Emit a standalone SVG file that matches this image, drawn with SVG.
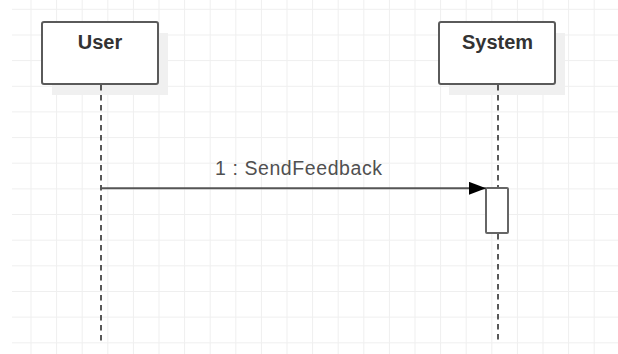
<svg xmlns="http://www.w3.org/2000/svg" width="618" height="354" viewBox="0 0 618 354">
  <style>
    .grid { stroke: #efefef; stroke-width: 1; fill: none; }
    .shadow { fill: #f0f0f0; stroke: none; }
    .box { fill: #ffffff; stroke: #5a5a5a; stroke-width: 2; }
    .title { font-family: "Liberation Sans", Arial, sans-serif; font-size: 20px; font-weight: bold; fill: #333333; text-anchor: middle; }
    .lifeline { stroke: #222222; stroke-width: 1.5; stroke-dasharray: 5.5 4.5; fill: none; }
    .msg { stroke: #555555; stroke-width: 2; fill: none; }
    .label { font-family: "Liberation Sans", Arial, sans-serif; font-size: 19.5px; fill: #505050; }
    .act { fill: #ffffff; stroke: #666666; stroke-width: 2; }
  </style>
  <defs>
    <marker id="arrow" markerUnits="userSpaceOnUse" markerWidth="18" markerHeight="14" refX="17" refY="6.5" orient="auto">
      <path d="M0,0 L17,6.5 L0,13 Z" fill="#000000"/>
    </marker>
  </defs>
  <rect x="0" y="0" width="618" height="354" fill="#ffffff"/>
  <g id="grid" class="grid">
    <path d="M31,0V354 M56.6,0V354 M82.2,0V354 M107.8,0V354 M133.4,0V354 M159,0V354 M184.6,0V354 M210.2,0V354 M235.8,0V354 M261.4,0V354 M287,0V354 M312.6,0V354 M338.2,0V354 M363.8,0V354 M389.4,0V354 M415,0V354 M440.6,0V354 M466.2,0V354 M491.8,0V354 M517.4,0V354 M543,0V354 M568.6,0V354 M594.2,0V354"/>
    <path d="M12,9.3H618 M12,35H618 M12,60.6H618 M12,86.3H618 M12,111.9H618 M12,137.6H618 M12,163.2H618 M12,188.9H618 M12,214.5H618 M12,240.2H618 M12,265.8H618 M12,291.5H618 M12,317.1H618 M12,342.8H618"/>
  </g>
  <g id="user">
    <rect class="shadow" x="52" y="33" width="116" height="62"/>
    <rect class="box" x="42" y="22" width="116" height="62" rx="2"/>
    <text class="title" x="100" y="48.5">User</text>
    <line class="lifeline" x1="101" y1="85" x2="101" y2="342"/>
  </g>
  <g id="system">
    <rect class="shadow" x="449" y="33" width="116" height="62"/>
    <rect class="box" x="439" y="22" width="116" height="62" rx="2"/>
    <text class="title" x="497.5" y="48.5">System</text>
    <line class="lifeline" x1="498" y1="85" x2="498" y2="188"/>
    <line class="lifeline" x1="498" y1="234" x2="498" y2="342"/>
    <rect id="activation" class="act" x="486" y="188" width="22" height="45" rx="1"/>
  </g>
  <g id="connectors">
    <line class="msg" x1="101" y1="188.3" x2="486" y2="188.3" marker-end="url(#arrow)"/>
    <text class="label" x="215" y="175" textLength="167" lengthAdjust="spacing">1 : SendFeedback</text>
  </g>
</svg>
